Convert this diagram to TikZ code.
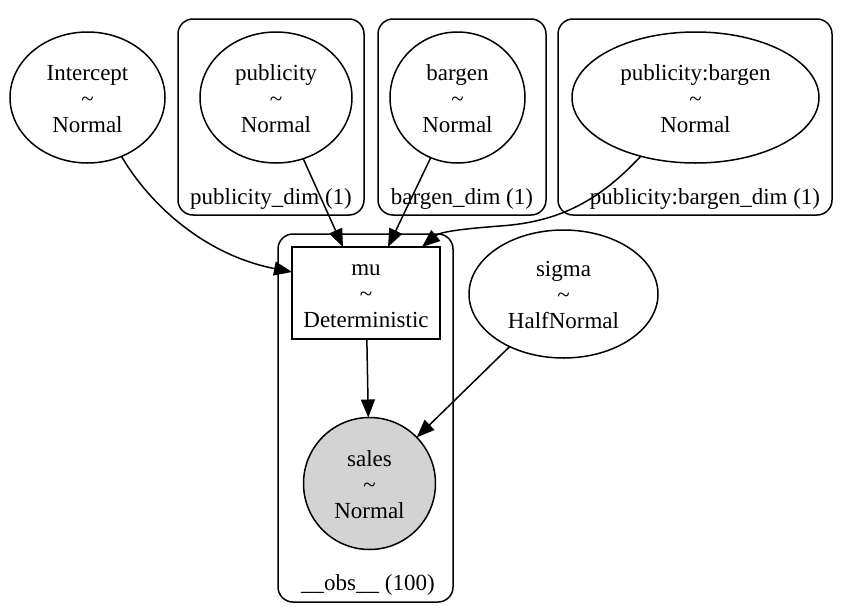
\documentclass[tikz,border=0pt]{standalone}
\usepackage{fontspec}
\setmainfont{Liberation Serif}
\usetikzlibrary{shapes.geometric,arrows.meta}
\definecolor{obsgray}{RGB}{211,211,211}
\newcommand{\tlab}[2]{\rule{0pt}{18pt}#1\\\textasciitilde\\#2}
\begin{document}
\begin{tikzpicture}[x=1pt,y=-1pt,
  every node/.style={font=\fontsize{23}{26}\selectfont, inner sep=0pt, outer sep=0pt},
  rv/.style={draw, line width=1.5pt, ellipse, align=center},
  detbox/.style={draw, line width=1.5pt, rectangle, align=center},
  obsrv/.style={draw, line width=1.5pt, circle, fill=obsgray, align=center},
  plate/.style={draw, line width=1.5pt, rounded corners=15pt, rectangle},
  platelab/.style={anchor=base},
  arr/.style={line width=1.5pt, -{Triangle[length=18pt,width=14pt]}},
  ]
\useasboundingbox (0,0) rectangle (844,616);

% plates
\node[plate, minimum width=186pt, minimum height=196pt] (pubplate) at (271,117) {};
\node[plate, minimum width=168pt, minimum height=196pt] (barplate) at (462,117) {};
\node[plate, minimum width=274pt, minimum height=196pt] (pbplate) at (695,117) {};
\node[plate, minimum width=175pt, minimum height=368pt] (obsplate) at (365.5,418) {};

\node[platelab] (publab) at (271,204) {publicity\_dim (1)};
\node[platelab] (barlab) at (462,204) {bargen\_dim (1)};
\node[platelab] (pblab) at (705,204) {publicity:bargen\_dim (1)};
\node[platelab] (obslab) at (368,590) {\_\_obs\_\_ (100)};

% variables
\node[rv, minimum width=155pt, minimum height=131pt] (intercept) at (87.5,97.5) {\tlab{Intercept}{Normal}};
\node[rv, minimum width=152pt, minimum height=131pt] (publicity) at (276,97.5) {\tlab{publicity}{Normal}};
\node[rv, minimum width=135pt, minimum height=131pt] (bargen) at (457.5,97.5) {\tlab{bargen}{Normal}};
\node[rv, minimum width=247pt, minimum height=131pt] (pb) at (695.5,97.5) {\tlab{publicity:bargen}{Normal}};
\node[detbox, minimum width=148pt, minimum height=92pt] (mu) at (366,293) {\tlab{mu}{Deterministic}};
\node[rv, minimum width=189pt, minimum height=128pt] (sigma) at (563.5,294) {\tlab{sigma}{HalfNormal}};
\node[obsrv, minimum size=132pt] (sales) at (369.5,483.5) {\tlab{sales}{Normal}};

% edges
\draw[arr] (intercept.-60) .. controls (150,205) and (205,255) .. ([yshift=21pt]mu.west);
\draw[arr] (publicity.-66) -- ([xshift=-23pt]mu.north);
\draw[arr] (bargen.-114) -- ([xshift=22pt]mu.north);
\draw[arr] (pb.-133) .. controls (600,200) and (560,222) .. (500,226)
  .. controls (460,229) and (440,232) .. ([xshift=-18pt]mu.north east);
\draw[arr] (mu) -- (sales);
\draw[arr] (sigma) -- (sales);
\end{tikzpicture}
\end{document}
